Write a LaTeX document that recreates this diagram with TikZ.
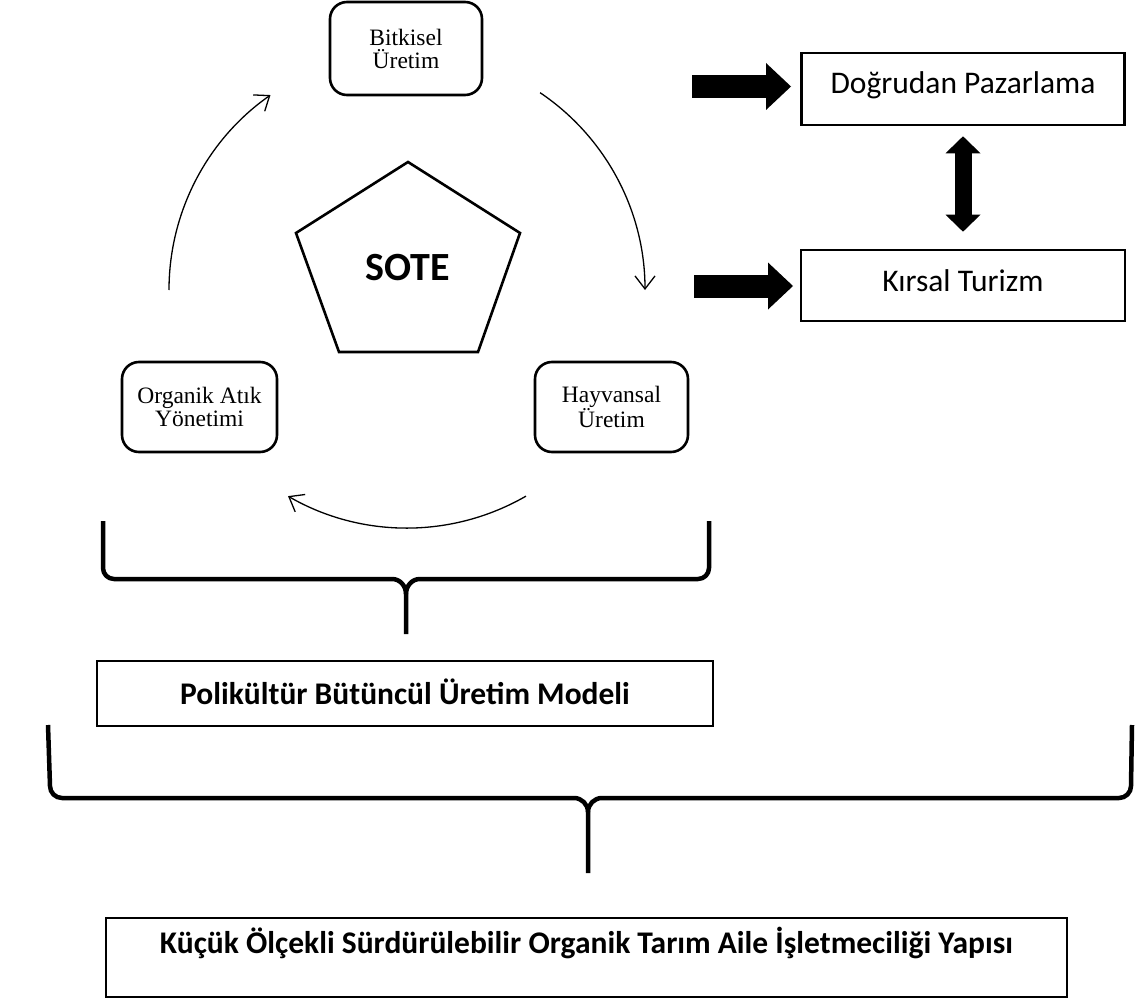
\documentclass[tikz,border=0pt]{standalone}
\usepackage{fontspec}
\setmainfont{Liberation Serif}
\newfontfamily\calibri{Carlito}
\usetikzlibrary{arrows.meta}
\begin{document}
\begin{tikzpicture}[x=1pt,y=1pt,
  rbox/.style={draw, line width=2.6pt, rounded corners=17pt, align=center, inner sep=0pt,
    font=\fontsize{23.5}{23}\selectfont},
  sbox/.style={draw, line width=2.6pt, inner sep=0pt, anchor=base,
    font=\calibri\fontsize{31.5}{36}\selectfont},
  bbox/.style={draw, line width=2.6pt, inner sep=0pt, anchor=base,
    font=\calibri\bfseries\fontsize{31.5}{36}\selectfont},
  cyc/.style={line width=1.3pt, -{Straight Barb[length=13pt,width=20pt,line width=1.3pt]}},
  block/.style={line width=23pt, -{Triangle[length=25pt,width=47pt,line width=0pt]}},
  brace/.style={line width=4.5pt, line join=round},
]
\useasboundingbox (0,0) rectangle (1138,-1003);

% cycle boxes
\node[rbox, minimum width=152pt, minimum height=93pt] (bit) at (406,-48.5) {Bitkisel\\Üretim};
\node[rbox, minimum width=155pt, minimum height=90pt] (org) at (199.5,-407) {Organik Atık\\Yönetimi};
\node[rbox, minimum width=153pt, minimum height=90pt] (hay) at (611.5,-407) {Hayvansal\\Üretim};

% pentagon
\coordinate (p1) at (408,-162);
\coordinate (p2) at (520,-233);
\coordinate (p3) at (478,-352);
\coordinate (p4) at (339,-352);
\coordinate (p5) at (296,-233);
\draw[line width=2.6pt, line join=miter] (p1)--(p2)--(p3)--(p4)--(p5)--cycle;
\node[inner sep=0pt, anchor=base, font=\calibri\bfseries\fontsize{40}{40}\selectfont] (sote) at (408,-280) {SOTE};

% cycle arrows
\coordinate (cc) at (407,-290);
\draw[cyc] ([shift={(180:238pt)}]cc) arc[start angle=180, end angle=125, radius=238pt];
\draw[cyc] ([shift={(56:238pt)}]cc) arc[start angle=56, end angle=0, radius=238pt];
\draw[cyc] ([shift={(-60:238pt)}]cc) arc[start angle=-60, end angle=-120, radius=238pt];

% right boxes
\node[sbox, minimum width=323pt, text height=41pt, text depth=31pt] (dog) at (963,-94) {Doğrudan Pazarlama};
\node[sbox, minimum width=324pt, text height=41.7pt, text depth=29.3pt] (kir) at (963,-291.7) {Kırsal Turizm};

% block arrows
\coordinate (a1s) at (692,-86.5);
\coordinate (a1e) at (791,-86.5);
\coordinate (a2s) at (694,-286);
\coordinate (a2e) at (793,-286);
\draw[block] (a1s) -- (a1e);
\draw[block] (a2s) -- (a2e);
\draw[line width=17pt, {Triangle[length=17pt,width=35pt,line width=0pt]}-{Triangle[length=17pt,width=35pt,line width=0pt]}]
  ([yshift=-10pt]dog.south) -- ([yshift=17pt]kir.north);

% brace 1
\draw[brace] (103,-521) -- (103,-568) to[out=-90,in=180] (114,-579) -- (392,-579) to[out=0,in=90] (406,-594) -- (406,-634);
\draw[brace] (709,-521) -- (709,-568) to[out=-90,in=0] (698,-579) -- (420,-579) to[out=180,in=90] (406,-594);

% Polikultur box
\node[bbox, minimum width=616pt, text height=43pt, text depth=22pt] (pol) at (405,-704) {Polikültür Bütüncül Üretim Modeli};

% brace 2
\draw[brace] (48,-725) -- (50,-786) to[out=-90,in=180] (62,-798) -- (574,-798) to[out=0,in=90] (588,-812) -- (588,-873);
\draw[brace] (1132,-725) -- (1131,-786) to[out=-90,in=0] (1119,-798) -- (602,-798) to[out=180,in=90] (588,-812);

% bottom box
\node[bbox, minimum width=961pt, text height=35pt, text depth=44pt] (kuc) at (586.5,-953) {Küçük Ölçekli Sürdürülebilir Organik Tarım Aile İşletmeciliği Yapısı};
\end{tikzpicture}
\end{document}
